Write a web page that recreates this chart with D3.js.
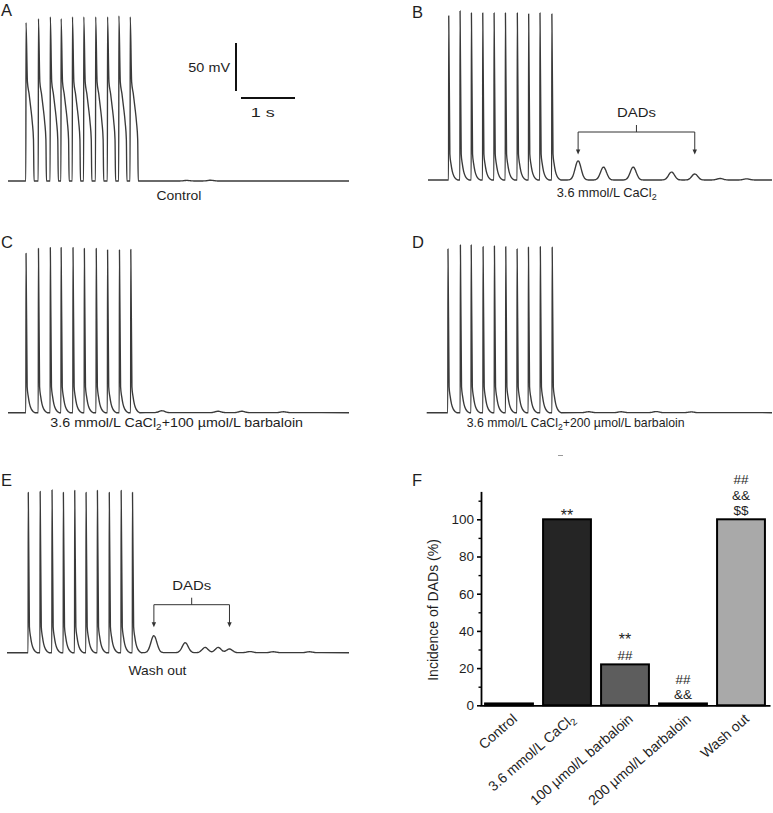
<!DOCTYPE html>
<html><head><meta charset="utf-8">
<script src="https://cdn.jsdelivr.net/npm/d3@7"></script>
<style>
body{margin:0;background:#fff}
svg{display:block}
text{font-family:"Liberation Sans",Arial,Helvetica,sans-serif;fill:#1e1e1e}
</style>
</head><body>
<svg id="fig" width="773" height="813"></svg>
<script>
// ================= DATA =================
const restMV = -85;               // resting potential (mV)
// Panel A – Control
const spikeTimesA = [0.33,0.56,0.78,0.98,1.19,1.40,1.62,1.84,2.05,2.26];
const spikePeaksA = [80,84,86,84,86,86,86,86,87,86];
const dadTimesA = [];  const dadAmpsA = [];
const rippleTimesA = [3.31,3.75]; const rippleAmpsA = [0.6,0.8];
// Panel B – 3.6 mmol/L CaCl2
const spikeTimesB = [0.38,0.59,0.80,1.01,1.22,1.43,1.65,1.86,2.07,2.29];
const spikePeaksB = [86,91,89,89,89,89,89,88,89,88];
const dadTimesB = [2.78,3.25,3.80,4.51,4.94];
const dadAmpsB  = [20,13.5,13.5,8.3,6.3];
const rippleTimesB = [5.41,5.90]; const rippleAmpsB = [1.6,1.2];
// Panel C – CaCl2 + 100 µmol/L barbaloin
const spikeTimesC = [0.33,0.56,0.78,0.98,1.20,1.41,1.63,1.84,2.06,2.27];
const spikePeaksC = [81,86,87,87,87,86,86,84.5,84.5,85];
const dadTimesC = []; const dadAmpsC = [];
const rippleTimesC = [2.85,3.89,4.33,5.10]; const rippleAmpsC = [2.0,1.5,1.5,1.0];
// Panel D – CaCl2 + 200 µmol/L barbaloin
const spikeTimesD = [0.39,0.62,0.82,1.04,1.25,1.46,1.67,1.88,2.10,2.32];
const spikePeaksD = [85.5,89.7,89.7,88,88.6,88,85.5,87.3,88,87.3];
const dadTimesD = []; const dadAmpsD = [];
const rippleTimesD = [3.00,3.60,4.25,4.90]; const rippleAmpsD = [1.0,1.0,1.2,0.8];
// Panel E – Wash out
const spikeTimesE = [0.39,0.61,0.83,1.04,1.25,1.46,1.67,1.89,2.11,2.32];
const spikePeaksE = [82,83,84.5,82,84,82,84,82,84,82];
const dadTimesE = [2.72,3.30,3.67,3.91,4.12];
const dadAmpsE  = [17.7,10.4,5.5,5.5,3.9];
const rippleTimesE = [4.50,4.93,5.60]; const rippleAmpsE = [1.2,1.0,1.0];

// Panel F – bar chart
const barCategories = ["Control","3.6 mmol/L CaCl2","100 \u00b5mol/L barbaloin","200 \u00b5mol/L barbaloin","Wash out"];
const barValues = [1,100,22,1,100];
const barMarks = [[],["**"],["**","##"],["##","&&"],["##","&&","$$"]];
const yTicksMajor = [0,20,40,60,80,100];
const yTicksMinor = [10,30,50,70,90,110];

// ================= STYLE / LAYOUT =================
const barFills = ["#111111","#252525","#5d5d5d","#1a1a1a","#a9a9a9"];
const PX_PER_S = 54, PX_PER_MV = 0.96;
// action potential shapes: [time offset (s), mV or "peak"]
const plateauTemplate = [[0,-85],[0.004,"peak"],[0.03,18],[0.06,6],[0.09,-8],[0.12,-24],[0.142,-42],[0.152,-85]];
const narrowTemplate  = [[0,-85],[0.004,"peak"],[0.025,-58],[0.045,-68],[0.07,-76],[0.1,-81],[0.14,-84],[0.17,-85]];
const DAD_SIGMA = 0.055;

const svg = d3.select("#fig");

function rich(t, str){
  const segs = str.split("CaCl2");
  segs.forEach((s,i)=>{
    const ts = t.append("tspan").text(s + (i<segs.length-1 ? "CaCl" : ""));
    if(i>0) ts.attr("dy", -3);
    if(i<segs.length-1) t.append("tspan").attr("font-size","0.7em").attr("dy",3).text("2");
  });
}
function stretchTo(t, cx, target){
  const w = t.node().getComputedTextLength();
  if(w>0){ const k = target/w; t.attr("transform",`translate(${cx},0) scale(${k},1) translate(${-cx},0)`); }
}

const panels = [
 {L:"A", x0:8,     x1:349, base:181,   letter:[1,16],   label:"Control", lab:[179,200], labW:45,
  tpl:plateauTemplate, sT:spikeTimesA, sV:spikePeaksA, dT:dadTimesA, dA:dadAmpsA, rT:rippleTimesA, rA:rippleAmpsA},
 {L:"B", x0:428,   x1:772, base:180,   letter:[412,18], label:"3.6 mmol/L CaCl2", lab:[606.7,197], labW:100,
  tpl:narrowTemplate, sT:spikeTimesB, sV:spikePeaksB, dT:dadTimesB, dA:dadAmpsB, rT:rippleTimesB, rA:rippleAmpsB},
 {L:"C", x0:8,     x1:349, base:412.7, letter:[1,248],  label:"3.6 mmol/L CaCl2+100 \u00b5mol/L barbaloin", lab:[176.7,426.7], labW:253,
  tpl:narrowTemplate, sT:spikeTimesC, sV:spikePeaksC, dT:dadTimesC, dA:dadAmpsC, rT:rippleTimesC, rA:rippleAmpsC},
 {L:"D", x0:426.7, x1:772, base:412.7, letter:[412,248],label:"3.6 mmol/L CaCl2+200 \u00b5mol/L barbaloin", lab:[575.7,426.7], labW:218,
  tpl:narrowTemplate, sT:spikeTimesD, sV:spikePeaksD, dT:dadTimesD, dA:dadAmpsD, rT:rippleTimesD, rA:rippleAmpsD},
 {L:"E", x0:7,     x1:349, base:652.7, letter:[1,486],  label:"Wash out", lab:[157.5,675], labW:58,
  tpl:narrowTemplate, sT:spikeTimesE, sV:spikePeaksE, dT:dadTimesE, dA:dadAmpsE, rT:rippleTimesE, rA:rippleAmpsE},
];

function buildTrace(p, dur){
  const pts = [[0,restMV],[dur,restMV]];
  p.sT.forEach((t,i)=> p.tpl.forEach(([dt,v]) => pts.push([t+dt, v==="peak" ? p.sV[i] : v])));
  const bumps = p.dT.map((t,i)=>[t,p.dA[i]]).concat(p.rT.map((t,i)=>[t,p.rA[i]]));
  const ts = new Set();
  bumps.forEach(([t])=>{ for(let d=-0.2; d<=0.2001; d+=0.015) ts.add(+(t+d).toFixed(3)); });
  ts.forEach(t=>{
    let v = restMV;
    bumps.forEach(([tk,a])=>{ v += a*Math.exp(-((t-tk)**2)/(2*DAD_SIGMA*DAD_SIGMA)); });
    pts.push([t,v]);
  });
  pts.sort((a,b)=>a[0]-b[0]);
  const out = [];
  pts.forEach(q=>{ if(!out.length || q[0]-out[out.length-1][0] > 1e-6) out.push(q); });
  return out;
}

panels.forEach(p=>{
  const dur = (p.x1-p.x0)/PX_PER_S;
  const x = d3.scaleLinear().domain([0,dur]).range([p.x0,p.x1]);
  const y = d3.scaleLinear().domain([restMV, restMV+100]).range([p.base, p.base-100*PX_PER_MV]);
  const g = svg.append("g");
  const line = d3.line().x(d=>x(d[0])).y(d=>y(d[1])).curve(d3.curveMonotoneX);
  g.append("path").datum(buildTrace(p,dur)).attr("d",line)
    .attr("fill","none").attr("stroke","#3a3a3a").attr("stroke-width",1.35).attr("stroke-linejoin","round");
  // panel letter
  g.append("text").attr("x",p.letter[0]).attr("y",p.letter[1]).attr("font-size",16.5).text(p.L);
  // condition label
  const t = g.append("text").attr("x",p.lab[0]).attr("y",p.lab[1]).attr("text-anchor","middle").attr("font-size",13);
  rich(t,p.label); stretchTo(t,p.lab[0],p.labW);
  // DAD bracket
  if(p.dT.length){
    const xl = x(p.dT[0]), xr = x(p.dT[p.dT.length-1]), xm = (xl+xr)/2;
    const top = p.base-48, tip = p.base-25.5;
    const bc = "#333";
    g.append("path").attr("d",`M${xl},${tip-4}V${top}H${xr}V${tip-4}M${xm},${top}V${p.base-55}`)
      .attr("fill","none").attr("stroke",bc).attr("stroke-width",1);
    [xl,xr].forEach(xx=> g.append("path").attr("d",`M${xx-2.2},${tip-5}L${xx+2.2},${tip-5}L${xx},${tip}Z`).attr("fill",bc));
    const dt = g.append("text").attr("x",xm).attr("y",p.base-63).attr("text-anchor","middle").attr("font-size",13.5).text("DADs");
    stretchTo(dt,xm,39);
  }
  // scale bar in A
  if(p.L==="A"){
    g.append("line").attr("x1",236).attr("x2",236).attr("y1",91).attr("y2",91-50*PX_PER_MV)
      .attr("stroke","#111").attr("stroke-width",2);
    g.append("line").attr("x1",241).attr("x2",241+1*PX_PER_S).attr("y1",98).attr("y2",98)
      .attr("stroke","#111").attr("stroke-width",2);
    const s1 = g.append("text").attr("x",230).attr("y",72).attr("text-anchor","end").attr("font-size",13.5).text("50 mV");
    const w1 = s1.node().getComputedTextLength(); s1.attr("transform",`translate(230,0) scale(${41.7/w1},1) translate(-230,0)`);
    const s2 = g.append("text").attr("x",262.7).attr("y",117).attr("text-anchor","middle").attr("font-size",13.5).text("1 s");
    stretchTo(s2,262.7,24);
  }
  if(p.L==="D"){
    g.append("line").attr("x1",558).attr("x2",563).attr("y1",455.5).attr("y2",455.5).attr("stroke","#999").attr("stroke-width",1);
  }
});

// ================= PANEL F =================
const gF = svg.append("g");
gF.append("text").attr("x",412).attr("y",486).attr("font-size",16.5).text("F");
const yF = d3.scaleLinear().domain([0,115]).range([705.3,491.4]);
const xF = d3.scaleBand().domain(barCategories).range([480,770]).paddingInner(0.175).paddingOuter(0.0875);

gF.selectAll("rect.bar").data(barCategories).join("rect").attr("class","bar")
  .attr("x",d=>xF(d)).attr("width",xF.bandwidth())
  .attr("y",(d,i)=>yF(barValues[i])).attr("height",(d,i)=>yF(0)-yF(barValues[i]))
  .attr("fill",(d,i)=>barFills[i]).attr("stroke","#000").attr("stroke-width",2);

// axes
const yAxis = gF.append("g").attr("transform","translate(481,0)")
  .call(d3.axisLeft(yF).tickValues(yTicksMajor).tickSize(4).tickSizeOuter(0).tickPadding(3));
yAxis.select(".domain").attr("stroke","#000").attr("stroke-width",1.8);
yAxis.selectAll(".tick line").attr("stroke","#000").attr("stroke-width",1.6);
yAxis.selectAll(".tick text").attr("font-size",13.5).attr("font-family",'"Liberation Sans",Arial,sans-serif').attr("fill","#333");
const yMinor = gF.append("g").attr("transform","translate(481,0)")
  .call(d3.axisLeft(yF).tickValues(yTicksMinor).tickSize(2.5).tickFormat(""));
yMinor.select(".domain").remove();
yMinor.selectAll(".tick line").attr("stroke","#000").attr("stroke-width",1.4);

const xAxis = gF.append("g").attr("transform",`translate(0,${yF(0)})`)
  .call(d3.axisBottom(xF).tickSize(0).tickSizeOuter(0).tickFormat(""));
xAxis.select(".domain").attr("stroke","#000").attr("stroke-width",1.8);

// rotated category labels
barCategories.forEach((c,i)=>{
  const ax = xF(c)+xF.bandwidth()/2 + 9, ay = yF(0)+15;
  const t = gF.append("text").attr("x",ax).attr("y",ay).attr("text-anchor","end").attr("font-size",14)
    .attr("fill","#2a2a2a").attr("transform",`rotate(-41,${ax},${ay})`);
  rich(t,c);
});

// significance marks
barCategories.forEach((c,i)=>{
  const cx = xF(c)+xF.bandwidth()/2, top = yF(barValues[i]);
  const marks = barMarks[i].slice().reverse();
  marks.forEach((m,j)=>{
    const star = m==="**";
    const yy = top - 4 - 15.5*j + (star ? (j===0 ? 5.4 : 0.4) : 0);
    gF.append("text").attr("x",cx).attr("y",yy).attr("text-anchor","middle")
      .attr("font-size",star ? 16 : 13.5).attr("fill","#222").text(m);
  });
});

// y label
const yl = gF.append("text").attr("transform","translate(438,610) rotate(-90)").attr("text-anchor","middle")
  .attr("font-size",14).attr("fill","#2a2a2a").text("Incidence of DADs (%)");
</script>
</body></html>
